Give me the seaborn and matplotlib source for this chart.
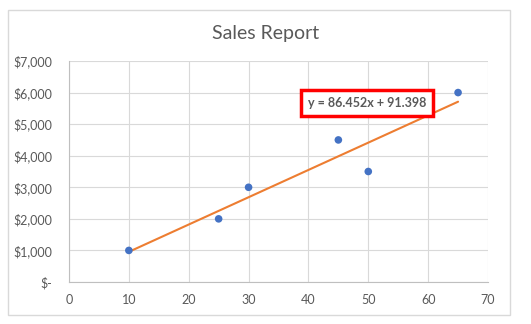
import matplotlib
matplotlib.use("Agg")
import matplotlib.pyplot as plt
import matplotlib.patches as mpatches
import seaborn as sns
import numpy as np
import pandas as pd
from matplotlib.ticker import FuncFormatter

# data
units = [10, 25, 30, 45, 50, 65]
sales = [1000, 2000, 3000, 4500, 3500, 6000]
x_ticks = [0, 10, 20, 30, 40, 50, 60, 70]
y_ticks = [0, 1000, 2000, 3000, 4000, 5000, 6000, 7000]
title = "Sales Report"

sns.set_theme(style="whitegrid")
plt.rcParams['font.family'] = ['Lato', 'DejaVu Sans']

df = pd.DataFrame({"x": units, "y": sales})
slope, intercept = np.polyfit(units, sales, 1)

fig = plt.figure(figsize=(5.31, 3.24), dpi=100)
fig.patch.set_facecolor("white")
# outer chart border
fig.add_artist(mpatches.Rectangle((8/531, 1-315/324), 502/531, 305/324, transform=fig.transFigure,
                                  fill=False, edgecolor="#d9d9d9", linewidth=1))
ax = fig.add_axes([69/531, 1-282/324, (488-69)/531, (282-61)/324])

sns.regplot(data=df, x="x", y="y", ax=ax, scatter=False, ci=None, truncate=True,
            line_kws=dict(color="#ED7D31", linewidth=1.5))
sns.scatterplot(data=df, x="x", y="y", ax=ax, color="#4472C4", s=30, edgecolor="none", zorder=3)

ax.set_xlim(0, 70)
ax.set_ylim(0, 7000)
ax.set_xticks(x_ticks)
ax.set_yticks(y_ticks)
ax.yaxis.set_major_formatter(FuncFormatter(lambda v, p: "$-" if v == 0 else f"${v:,.0f}"))
ax.set_xlabel("")
ax.set_ylabel("")
ax.grid(True, color="#d9d9d9", linewidth=0.8)
for s in ["top", "right"]:
    ax.spines[s].set_visible(False)
for s in ["left", "bottom"]:
    ax.spines[s].set_visible(True)
    ax.spines[s].set_color("#bfbfbf")
    ax.spines[s].set_linewidth(0.8)
ax.tick_params(axis="y", labelsize=9, colors="#595959", length=0, pad=12)
ax.tick_params(axis="x", labelsize=9, colors="#595959", length=0, pad=9)
ax.set_facecolor("white")

fig.text(0.5, 1-33/324, title, ha="center", va="center", fontsize=14, color="#595959")

ax.text(0.571, 0.81, f"y = {slope:.3f}x + {intercept:.3f}", transform=ax.transAxes,
        ha="left", va="center", fontsize=9, fontweight="bold", color="#595959",
        bbox=dict(boxstyle="square,pad=0.55", facecolor="white", edgecolor="#FF0000", linewidth=2.5))

fig.savefig("out.png", dpi=100)
